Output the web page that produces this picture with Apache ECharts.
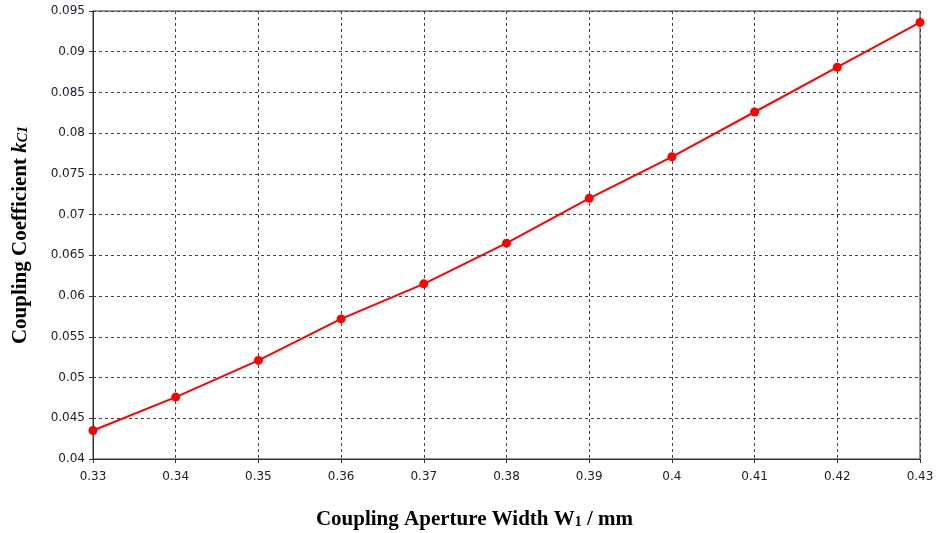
<!DOCTYPE html>
<html>
<head>
<meta charset="utf-8">
<script src="https://cdn.jsdelivr.net/npm/echarts@6/dist/echarts.min.js"></script>
<style>
  html, body { margin: 0; padding: 0; background: #fff; }
  #chart { width: 936px; height: 533px; }
</style>
</head>
<body>
<div id="chart"></div>
<script>
// aperture width W1 (mm) and coupling coefficient kC1
var widths = [0.33, 0.34, 0.35, 0.36, 0.37, 0.38, 0.39, 0.40, 0.41, 0.42, 0.43];
var coupling = [0.0435, 0.0476, 0.0521, 0.0572, 0.0615, 0.0665, 0.0720, 0.0771, 0.0826, 0.0881, 0.0936];

var chart = echarts.init(document.getElementById('chart'), null, { renderer: 'canvas' });

var axisColor = '#333';
var labelFont = 'DejaVu Sans';
var titleFont = 'Liberation Serif';

chart.setOption({
  animation: false,
  backgroundColor: '#fff',
  grid: {
    left: 93, right: 16, top: 11, bottom: 74,
    outerBoundsMode: 'none',
    containLabel: false,
    show: true, borderColor: axisColor, borderWidth: 1
  },
  xAxis: {
    type: 'value',
    min: 0.33, max: 0.43, interval: 0.01,
    name: 'Coupling Aperture Width W{s|1} / mm',
    nameLocation: 'middle',
    nameGap: 50,
    nameTextStyle: {
      fontFamily: titleFont, fontWeight: 'bold', fontSize: 21, color: '#000',
      padding: [0, 64, 0, 0],
      rich: { s: { fontFamily: titleFont, fontWeight: 'bold', fontSize: 14, color: '#000', padding: [6, 0, 0, 0] } }
    },
    axisLine: { lineStyle: { color: axisColor } },
    axisTick: { show: true, length: 4, lineStyle: { color: axisColor } },
    axisLabel: {
      margin: 12, fontFamily: labelFont, fontSize: 12, color: '#1a1a2a',
      formatter: function (v) { return String(parseFloat(v.toFixed(2))); }
    },
    splitLine: { show: true, lineStyle: { color: '#444', type: [3, 3], width: 1 } }
  },
  yAxis: {
    type: 'value',
    min: 0.04, max: 0.095, interval: 0.005,
    name: 'Coupling Coefficient {k|k}{s|C1}',
    nameLocation: 'middle',
    nameGap: 62,
    nameRotate: 90,
    nameTextStyle: {
      fontFamily: titleFont, fontWeight: 'bold', fontSize: 21, color: '#000',
      rich: {
        k: { fontFamily: titleFont, fontWeight: 'bold', fontStyle: 'italic', fontSize: 21, color: '#000' },
        s: { fontFamily: titleFont, fontWeight: 'bold', fontStyle: 'italic', fontSize: 14, color: '#000', padding: [6, 0, 0, 0] }
      }
    },
    axisLine: { show: true, lineStyle: { color: axisColor } },
    axisTick: { show: true, length: 4, lineStyle: { color: axisColor } },
    axisLabel: {
      margin: 8, fontFamily: labelFont, fontSize: 12, color: '#1a1a2a',
      formatter: function (v) { return String(parseFloat(v.toFixed(3))); }
    },
    splitLine: { show: true, lineStyle: { color: '#444', type: [3, 3], width: 1 } }
  },
  series: [{
    type: 'line',
    data: widths.map(function (w, i) { return [w, coupling[i]]; }),
    symbol: 'circle',
    symbolSize: 9,
    lineStyle: { color: '#ff0000', width: 2 },
    itemStyle: { color: '#ff0000' }
  }]
});
</script>
</body>
</html>
